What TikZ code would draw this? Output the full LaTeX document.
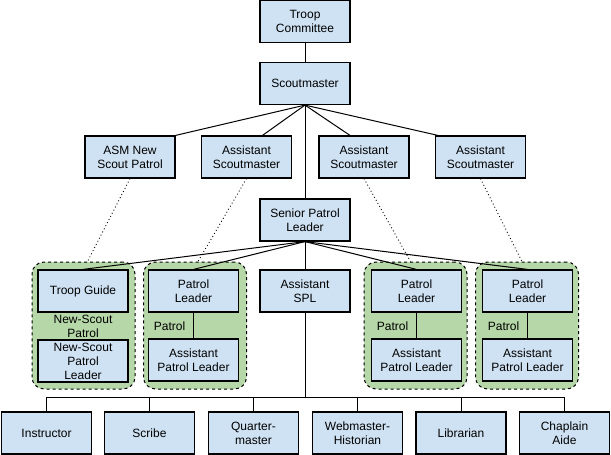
\documentclass[tikz,border=0pt]{standalone}
\usepackage{fontspec}
\setmainfont{Liberation Sans}
\usetikzlibrary{calc}
\definecolor{boxblue}{HTML}{CFE2F3}
\definecolor{patrolgreen}{HTML}{B6D7A8}
\tikzset{
  box/.style={draw,fill=boxblue,line width=1.2pt,minimum width=90pt,minimum height=42pt,inner sep=1pt,align=center,font=\fontsize{12}{14}\selectfont},
  patrolgroup/.style={draw,dashed,fill=patrolgreen,rounded corners=12pt,line width=1pt,minimum width=103pt,minimum height=127pt},
  grouptext/.style={align=center,inner sep=0pt,font=\fontsize{12}{14}\selectfont},
  link/.style={line width=1pt},
  advise/.style={line width=0.9pt,dash pattern=on 0.9pt off 2.6pt}
}
\begin{document}
\begin{tikzpicture}[x=1pt,y=-1pt]
\useasboundingbox (0,0) rectangle (611,455);
\node[box] (tc) at (305,21.5) {Troop\\Committee};
\node[box] (sm) at (305,83.5) {Scoutmaster};
\node[box] (asm) at (130,157) {ASM New\\Scout Patrol};
\node[box] (asma) at (246.5,157) {Assistant\\Scoutmaster};
\node[box] (asmb) at (364,157) {Assistant\\Scoutmaster};
\node[box] (asmc) at (480.5,157) {Assistant\\Scoutmaster};
\node[box] (spl) at (305,220) {Senior Patrol\\Leader};
\node[box] (aspl) at (305,291) {Assistant\\SPL};
\node[patrolgroup] (g1) at (83.5,325.5) {};
\node[patrolgroup] (g2) at (195,325.5) {};
\node[patrolgroup] (g3) at (415.5,325.5) {};
\node[patrolgroup] (g4) at (527,325.5) {};
\node[box] (tg) at (83,291) {Troop Guide};
\node[grouptext] (nsp) at (83,326.5) {New-Scout\\Patrol};
\node[box,inner sep=0pt] (nspl) at (83,361) {New-Scout\\Patrol\\Leader};
\node[box] (pla) at (193.5,291) {Patrol\\Leader};
\node[box] (apla) at (193.5,360) {Assistant\\Patrol Leader};
\node[box] (plb) at (416.5,291) {Patrol\\Leader};
\node[box] (aplb) at (416.5,360) {Assistant\\Patrol Leader};
\node[box] (plc) at (527.5,291) {Patrol\\Leader};
\node[box] (aplc) at (527.5,360) {Assistant\\Patrol Leader};
\node[grouptext] (pta) at (169.5,326.5) {Patrol};
\node[grouptext] (ptb) at (392.5,326.5) {Patrol};
\node[grouptext] (ptc) at (503.5,326.5) {Patrol};
\node[box] (instr) at (46.5,433) {Instructor};
\node[box] (scribe) at (149.5,433) {Scribe};
\node[box] (qm) at (253.5,433) {Quarter-\\master};
\node[box] (web) at (357.5,433) {Webmaster-\\Historian};
\node[box] (lib) at (461,433) {Librarian};
\node[box] (chap) at (564.5,433) {Chaplain\\Aide};
\coordinate (bus) at (305,397);
\draw[link] (tc) -- (sm);
\draw[link] (sm.south) -- (asm.north east);
\draw[link] (sm.south) -- ([xshift=16pt]asma.north);
\draw[link] (sm.south) -- ([xshift=-14pt]asmb.north);
\draw[link] (sm.south) -- ([xshift=3pt]asmc.north west);
\draw[link] (sm) -- (spl);
\draw[advise] (asm.south) -- ([xshift=4pt]g1.north);
\draw[advise] (asma.south) -- ([xshift=3pt]g2.north);
\draw[advise] (asmb.south) -- ([xshift=-5pt]g3.north);
\draw[advise] (asmc.south) -- ([xshift=-5pt]g4.north);
\foreach \pl in {tg,pla,plb,plc}
  \draw[link] (spl.south) -- (\pl.north);
\draw[link] (pla) -- (apla);
\draw[link] (plb) -- (aplb);
\draw[link] (plc) -- (aplc);
\draw[link] (spl) -- (aspl);
\draw[link] (aspl) -- (bus);
\foreach \job in {instr,scribe,qm,web,lib,chap}
  \draw[link] (bus) -| (\job.north);
\end{tikzpicture}
\end{document}
